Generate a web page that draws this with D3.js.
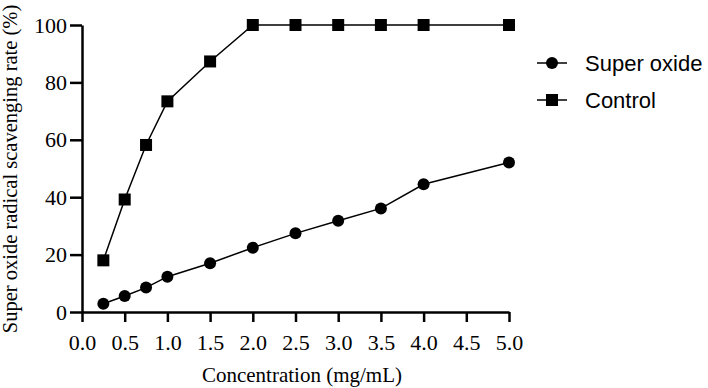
<!DOCTYPE html>
<html>
<head>
<meta charset="utf-8">
<script src="https://cdn.jsdelivr.net/npm/d3@7"></script>
<style>
  body { margin: 0; background: #fff; }
  .tick text { font-family: "Liberation Serif", "Times New Roman", serif; font-size: 22px; fill: #000; }
  .axis-title { font-family: "Liberation Serif", "Times New Roman", serif; font-size: 21px; fill: #000; }
  .legend text { font-family: "Liberation Sans", Arial, sans-serif; font-size: 22px; fill: #000; }
</style>
</head>
<body>
<div id="chart"></div>
<script>
let concentration = [0.25, 0.5, 0.75, 1.0, 1.5, 2.0, 2.5, 3.0, 3.5, 4.0, 5.0];
let superOxide = [2.9, 5.6, 8.5, 12.3, 17.0, 22.4, 27.4, 31.8, 36.1, 44.5, 52.1];
let control = [18.0, 39.2, 58.2, 73.4, 87.3, 100, 100, 100, 100, 100, 100];
let xTicks = [0, 0.5, 1.0, 1.5, 2.0, 2.5, 3.0, 3.5, 4.0, 4.5, 5.0];
let yTicks = [0, 20, 40, 60, 80, 100];

let margin = { top: 25, right: 199, bottom: 76, left: 82 },
  width = 708 - margin.left - margin.right,
  height = 388 - margin.top - margin.bottom;

let svg = d3
  .select("#chart")
  .append("svg")
  .attr("width", 708)
  .attr("height", 388);

let canvas = svg
  .append("g")
  .attr("transform", "translate(" + margin.left + "," + margin.top + ")");

let xScale = d3.scaleLinear().domain([0, 5]).range([0, width]);
let yScale = d3.scaleLinear().domain([0, 100]).range([height, 0]);

let xAxis = d3.axisBottom(xScale).tickValues(xTicks).tickFormat(d3.format(".1f")).tickSizeInner(10).tickSizeOuter(0).tickPadding(12);
let yAxis = d3.axisLeft(yScale).tickValues(yTicks).tickSizeInner(12).tickSizeOuter(0).tickPadding(3);

let xAxisEl = canvas.append("g").attr("transform", "translate(0," + height + ")").call(xAxis);
let yAxisEl = canvas.append("g").call(yAxis);

[xAxisEl, yAxisEl].forEach((g) => {
  g.select(".domain").attr("stroke", "#000").attr("stroke-width", 2.5);
  g.selectAll(".tick line").attr("stroke", "#000").attr("stroke-width", 2.5);
});

let line = d3
  .line()
  .x((d) => xScale(d[0]))
  .y((d) => yScale(d[1]));

let soData = concentration.map((c, i) => [c, superOxide[i]]);
let ctData = concentration.map((c, i) => [c, control[i]]);

canvas.append("path").datum(soData).attr("fill", "none").attr("stroke", "#000").attr("stroke-width", 1.5).attr("d", line);
canvas.append("path").datum(ctData).attr("fill", "none").attr("stroke", "#000").attr("stroke-width", 1.5).attr("d", line);

canvas
  .selectAll(".so-pt")
  .data(soData)
  .enter()
  .append("circle")
  .attr("cx", (d) => xScale(d[0]))
  .attr("cy", (d) => yScale(d[1]))
  .attr("r", 6)
  .attr("fill", "#000");

canvas
  .selectAll(".ct-pt")
  .data(ctData)
  .enter()
  .append("rect")
  .attr("x", (d) => xScale(d[0]) - 6)
  .attr("y", (d) => yScale(d[1]) - 6)
  .attr("width", 12)
  .attr("height", 12)
  .attr("fill", "#000");

// axis titles
svg
  .append("text")
  .attr("class", "axis-title")
  .attr("x", 302)
  .attr("y", 382)
  .attr("text-anchor", "middle")
  .text("Concentration (mg/mL)");

svg
  .append("text")
  .attr("class", "axis-title")
  .style("font-size", "20.5px")
  .attr("transform", "translate(17,169) rotate(-90)")
  .attr("text-anchor", "middle")
  .text("Super oxide radical scavenging rate (%)");

// legend
let legend = svg.append("g").attr("class", "legend").attr("transform", "translate(537,63)");
let items = [
  { name: "Super oxide", shape: "circle" },
  { name: "Control", shape: "square" },
];
items.forEach((it, i) => {
  let g = legend.append("g").attr("transform", "translate(0," + i * 37 + ")");
  g.append("line").attr("x1", 0).attr("x2", 30).attr("stroke", "#000").attr("stroke-width", 1.5);
  if (it.shape === "circle") g.append("circle").attr("cx", 15).attr("r", 6).attr("fill", "#000");
  else g.append("rect").attr("x", 9).attr("y", -6).attr("width", 12).attr("height", 12).attr("fill", "#000");
  g.append("text").attr("x", 48).attr("y", 8).text(it.name);
});
</script>
</body>
</html>
